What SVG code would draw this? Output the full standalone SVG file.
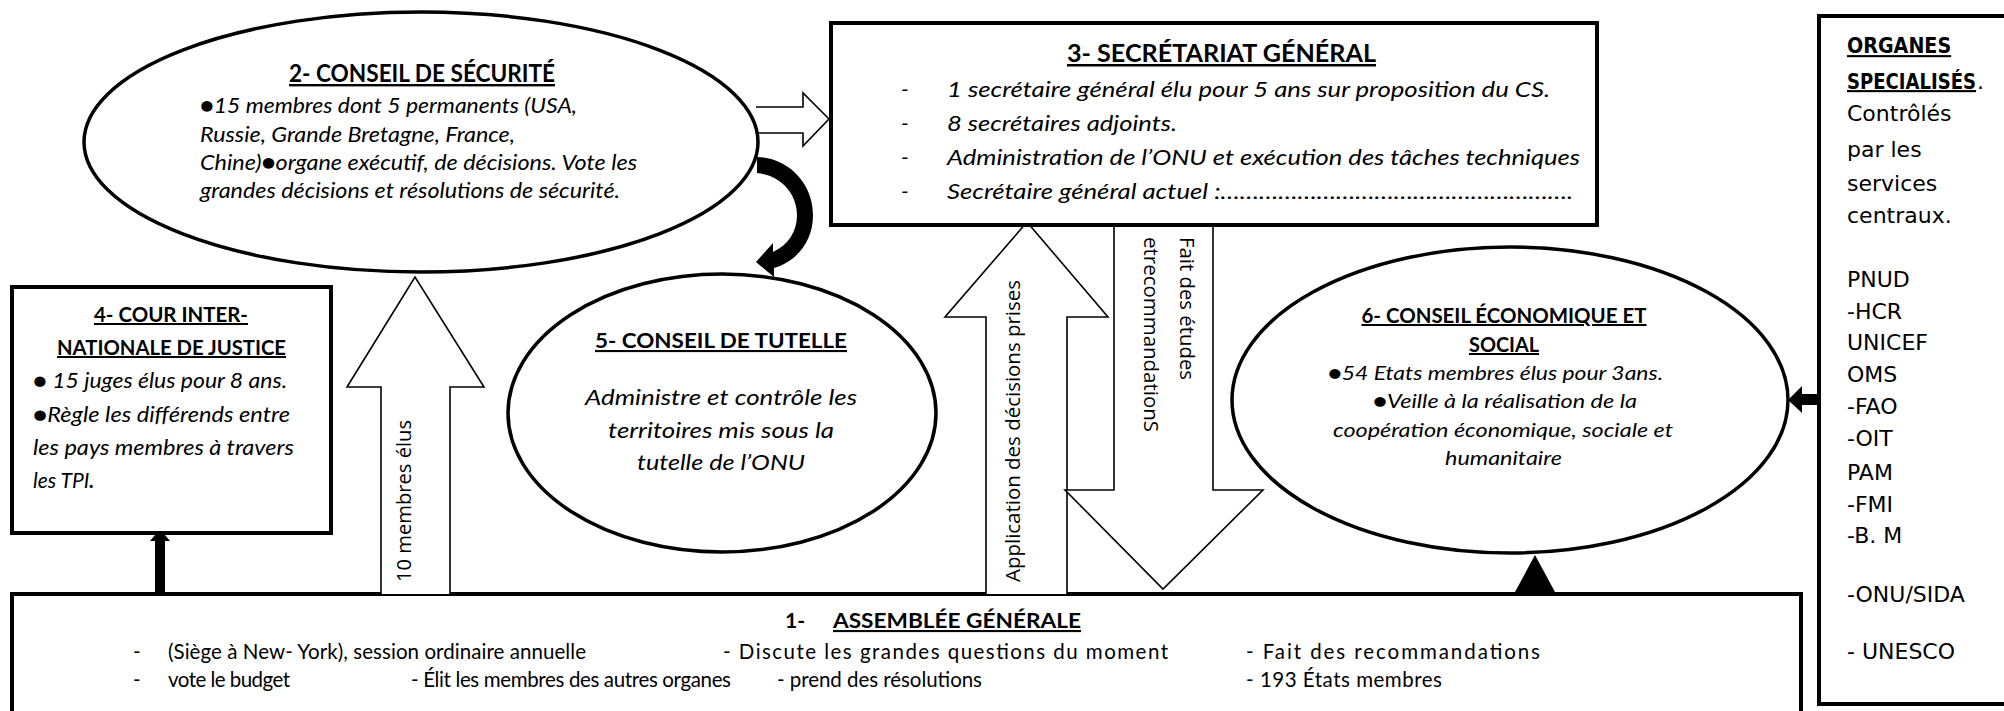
<svg xmlns="http://www.w3.org/2000/svg" width="2004" height="711" viewBox="0 0 2004 711">
<style>
.t{font-family:Lato,"Liberation Sans",sans-serif;fill:#000}
.it{font-style:italic}
.b{font-weight:bold}
.u{text-decoration:underline}
.os{font-family:"Open Sans","Liberation Sans",sans-serif;fill:#000;font-size:20px}
.dv{font-family:"DejaVu Sans",Verdana,sans-serif;fill:#000;font-size:22px}
.box{fill:#fff;stroke:#000;stroke-width:4}
.ell{fill:#fff;stroke:#000;stroke-width:3.5}
.harrow{fill:#fff;stroke:#000;stroke-width:1.6;stroke-linejoin:miter}
.solid{fill:#000;stroke:none}
</style>
<rect width="2004" height="711" fill="#fff"/>

<g id="assemblee">
<rect class="box" x="12" y="594" width="1789" height="140"/>
<text class="t b" x="785" y="628" font-size="21">1-</text>
<text class="t b u" x="833" y="628" font-size="21" textLength="248" lengthAdjust="spacingAndGlyphs">ASSEMBLÉE GÉNÉRALE</text>
<g class="t" font-size="20.5">
<text x="133" y="659">-</text>
<text x="168" y="659" textLength="418" lengthAdjust="spacing">(Siège à New- York), session ordinaire annuelle</text>
<text x="723" y="659" textLength="445" lengthAdjust="spacing">- Discute les grandes questions du moment</text>
<text x="1246" y="659" textLength="294" lengthAdjust="spacing">- Fait des recommandations</text>
<text x="133" y="687">-</text>
<text x="168" y="687" textLength="122" lengthAdjust="spacing">vote le budget</text>
<text x="411" y="687" textLength="320" lengthAdjust="spacing">- Élit les membres des autres organes</text>
<text x="777" y="687" textLength="205" lengthAdjust="spacing">- prend des résolutions</text>
<text x="1246" y="687" textLength="196" lengthAdjust="spacing">- 193 États membres</text>
</g>
</g>

<g id="connectors">
<path class="harrow" d="M381,594 L381,387 L347,387 L415,277 L484,387 L450,387 L450,594"/>
<path class="harrow" d="M986,594 L986,317 L945,317 L1027,222 L1108,317 L1067,317 L1067,594"/>
<path class="harrow" d="M1114,226 L1114,490 L1065,490 L1163,589 L1263,490 L1213,490 L1213,226"/>
<path class="harrow" d="M756,107 L803,107 L803,93 L829,119 L803,146 L803,133 L756,133"/>
<path class="solid" d="M757,157 C790,158 813,185 813,215 C813,243 795,262 774,268 L774,277 L756,262 L773,243 L773,252 C788,245 797,232 797,215 C797,193 780,175 757,173 Z"/>
<rect class="solid" x="155" y="541" width="10" height="53"/>
<polygon class="solid" points="150,541 170,541 160,529"/>
<polygon class="solid" points="1515,592 1555,592 1535,555"/>
<rect class="solid" x="1799" y="394" width="22" height="11"/>
<polygon class="solid" points="1802,386 1802,413 1788,400"/>
<text class="os" transform="translate(411,582) rotate(-90)" textLength="162" lengthAdjust="spacingAndGlyphs">10 membres élus</text>
<text class="os" transform="translate(1020,582) rotate(-90)" textLength="302" lengthAdjust="spacingAndGlyphs">Application des décisions prises</text>
<text class="os" transform="translate(1180,237) rotate(90)" textLength="143" lengthAdjust="spacingAndGlyphs">Fait des études</text>
<text class="os" transform="translate(1144,237) rotate(90)" textLength="195" lengthAdjust="spacingAndGlyphs">etrecommandationS</text>
</g>

<g id="conseil-securite">
<ellipse class="ell" cx="421" cy="142" rx="337" ry="130"/>
<text class="t b u" x="289" y="82" font-size="24" textLength="266" lengthAdjust="spacingAndGlyphs">2- CONSEIL DE SÉCURITÉ</text>
<g class="t it" font-size="22">
<text x="200" y="113" textLength="377" lengthAdjust="spacingAndGlyphs">●15 membres dont 5 permanents (USA,</text>
<text x="200" y="142" textLength="315" lengthAdjust="spacingAndGlyphs">Russie, Grande Bretagne, France,</text>
<text x="200" y="170" textLength="437" lengthAdjust="spacingAndGlyphs">Chine)●organe exécutif, de décisions. Vote les</text>
<text x="200" y="198" textLength="420" lengthAdjust="spacingAndGlyphs">grandes décisions et résolutions de sécurité.</text>
</g>
</g>

<g id="secretariat">
<rect class="box" x="831" y="23" width="766" height="202"/>
<text class="t b u" x="1067" y="62" font-size="25" textLength="309" lengthAdjust="spacingAndGlyphs">3- SECRÉTARIAT GÉNÉRAL</text>
<g class="t it" font-size="22">
<text x="901" y="97">-</text>
<text x="901" y="131">-</text>
<text x="901" y="165">-</text>
<text x="901" y="199">-</text>
<text x="947" y="97" textLength="603" lengthAdjust="spacingAndGlyphs">1 secrétaire général élu pour 5 ans sur proposition du CS.</text>
<text x="947" y="131" textLength="230" lengthAdjust="spacingAndGlyphs">8 secrétaires adjoints.</text>
<text x="947" y="165" textLength="633" lengthAdjust="spacingAndGlyphs">Administration de l’ONU et exécution des tâches techniques</text>
<text x="947" y="199" textLength="626" lengthAdjust="spacingAndGlyphs">Secrétaire général actuel :……………………………………………….</text>
</g>
</g>

<g id="cour">
<rect class="box" x="12" y="287" width="319" height="246"/>
<text class="t b u" x="171" y="322" font-size="20" text-anchor="middle" textLength="154" lengthAdjust="spacingAndGlyphs">4- COUR INTER-</text>
<text class="t b u" x="171.5" y="355" font-size="20" text-anchor="middle" textLength="229" lengthAdjust="spacingAndGlyphs">NATIONALE DE JUSTICE</text>
<g class="t it" font-size="21">
<text x="33" y="388" textLength="254" lengthAdjust="spacingAndGlyphs">● 15 juges élus pour 8 ans.</text>
<text x="33" y="422" textLength="257" lengthAdjust="spacingAndGlyphs">●Règle les différends entre</text>
<text x="33" y="455" textLength="261" lengthAdjust="spacingAndGlyphs">les pays membres à travers</text>
<text x="33" y="488">les TPI<tspan class="b">.</tspan></text>
</g>
</g>

<g id="conseil-tutelle">
<ellipse class="ell" cx="722" cy="413" rx="214" ry="139"/>
<text class="t b u" x="721" y="348" font-size="21" text-anchor="middle" textLength="252" lengthAdjust="spacingAndGlyphs">5- CONSEIL DE TUTELLE</text>
<g class="t it" font-size="22" text-anchor="middle">
<text x="721" y="405" textLength="272" lengthAdjust="spacingAndGlyphs">Administre et contrôle les</text>
<text x="721" y="438" textLength="226" lengthAdjust="spacingAndGlyphs">territoires mis sous la</text>
<text x="721" y="470" textLength="168" lengthAdjust="spacingAndGlyphs">tutelle de l’ONU</text>
</g>
</g>

<g id="conseil-economique">
<ellipse class="ell" cx="1510" cy="400" rx="278" ry="153"/>
<text class="t b u" x="1504" y="323" font-size="20" text-anchor="middle" textLength="285" lengthAdjust="spacingAndGlyphs">6- CONSEIL ÉCONOMIQUE ET</text>
<text class="t b u" x="1504" y="352" font-size="20" text-anchor="middle" textLength="70" lengthAdjust="spacingAndGlyphs">SOCIAL</text>
<g class="t it" font-size="20">
<text x="1328" y="380" textLength="335" lengthAdjust="spacingAndGlyphs">●54 Etats membres élus pour 3ans.</text>
<text x="1373" y="408" textLength="264" lengthAdjust="spacingAndGlyphs">●Veille à la réalisation de la</text>
<text x="1333" y="437" textLength="340" lengthAdjust="spacingAndGlyphs">coopération économique, sociale et</text>
<text x="1445" y="465" textLength="117" lengthAdjust="spacingAndGlyphs">humanitaire</text>
</g>
</g>

<g id="organes-specialises">
<rect class="box" x="1819" y="16" width="200" height="688"/>
<g class="dv">
<text class="b u" font-size="21" transform="translate(1847,53) scale(0.91,1)">ORGANES</text>
<text class="b u" font-size="21" transform="translate(1847,89) scale(0.86,1)">SPECIALISÉS</text>
<text x="1977" y="89">.</text>
<text x="1847" y="121">Contrôlés</text>
<text x="1847" y="157">par les</text>
<text x="1847" y="191">services</text>
<text x="1847" y="223">centraux.</text>
<text x="1847" y="287">PNUD</text>
<text x="1847" y="319">-HCR</text>
<text x="1847" y="350">UNICEF</text>
<text x="1847" y="382">OMS</text>
<text x="1847" y="414">-FAO</text>
<text x="1847" y="446">-OIT</text>
<text x="1847" y="480">PAM</text>
<text x="1847" y="512">-FMI</text>
<text x="1847" y="543">-B. M</text>
<text x="1847" y="602">-ONU/SIDA</text>
<text x="1847" y="659">- UNESCO</text>
</g>
</g>
</svg>
